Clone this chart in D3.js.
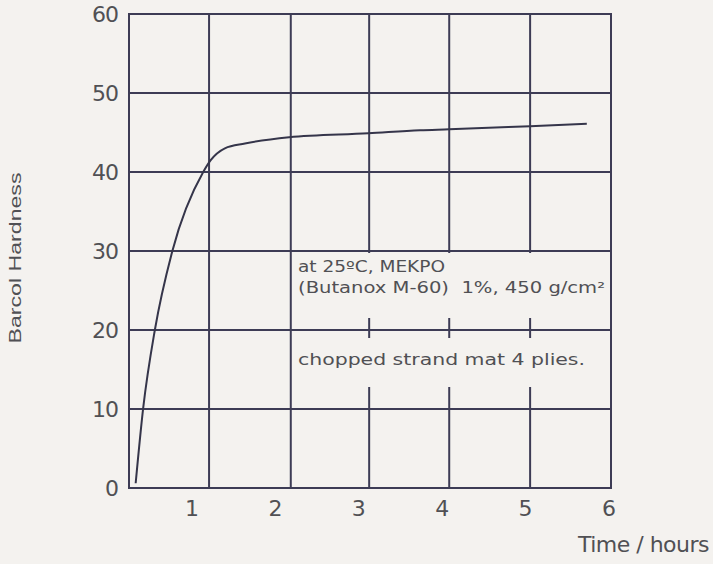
<!DOCTYPE html>
<html>
<head>
<meta charset="utf-8">
<script src="https://cdn.jsdelivr.net/npm/d3@7/dist/d3.min.js"></script>
<style>
  html, body { margin: 0; padding: 0; background: #f4f2ef; }
  svg { display: block; }
</style>
</head>
<body>
<svg id="chart" width="713" height="564"></svg>
<script>
// ---- data ----
const timeHours = [0.33, 0.42, 0.56, 0.77, 1.14, 1.23, 1.40, 1.64, 2.17, 3.12, 3.74, 4.09, 5.06, 5.74];
const barcolHardness = [0.6, 10.1, 20.0, 30.0, 40.0, 41.5, 43.0, 43.6, 44.4, 44.9, 45.3, 45.4, 45.8, 46.1];
const xTickValues = [1, 2, 3, 4, 5, 6];
const yTickValues = [0, 10, 20, 30, 40, 50, 60];
const xGridValues = [1.21, 2.19, 3.13, 4.09, 5.06];
const xLabel = "Time / hours";
const yLabel = "Barcol Hardness";
const noteLines = ["at 25\u00baC, MEKPO", "(Butanox M-60)\u00a0\u00a01%, 450 g/cm\u00b2", "chopped strand mat 4 plies."];

// ---- layout ----
const svg = d3.select("#chart");
const mLeft = 129, mRight = 611, mTop = 14, mBottom = 488;
const x = d3.scaleLinear().domain([0.25, 6.03]).range([mLeft, mRight]);
const y = d3.scaleLinear().domain([0, 60]).range([mBottom, mTop]);

const lineColor = "#3d3c55";
const textColor = "#505054";
const paper = "#f4f2ef";

svg.append("rect").attr("width", 713).attr("height", 564).attr("fill", paper);

// vertical grid lines
svg.append("g").selectAll("line").data(xGridValues).join("line")
  .attr("x1", d => x(d)).attr("x2", d => x(d))
  .attr("y1", y(0)).attr("y2", y(60))
  .attr("stroke", lineColor).attr("stroke-width", 2);

// annotation background (masks vertical grid lines)
svg.append("rect")
  .attr("x", x(2.19) + 2).attr("width", x(6.03) - x(2.19) - 4)
  .attr("y", y(30) + 2).attr("height", y(20) - y(30) - 14)
  .attr("fill", paper);
svg.append("rect")
  .attr("x", x(2.19) + 2).attr("width", x(6.03) - x(2.19) - 4)
  .attr("y", y(20) + 8).attr("height", y(10) - y(20) - 30)
  .attr("fill", paper);

// horizontal grid lines
svg.append("g").selectAll("line").data(yTickValues.filter(v => v > 0 && v < 60)).join("line")
  .attr("x1", x(0.25)).attr("x2", x(6.03))
  .attr("y1", d => y(d)).attr("y2", d => y(d))
  .attr("stroke", lineColor).attr("stroke-width", 2);

// frame
svg.append("rect")
  .attr("x", mLeft).attr("y", mTop)
  .attr("width", mRight - mLeft).attr("height", mBottom - mTop)
  .attr("fill", "none").attr("stroke", lineColor).attr("stroke-width", 2);

// axes labels
const yAxis = svg.append("g").attr("transform", `translate(${mLeft},0)`)
  .call(d3.axisLeft(y).tickValues(yTickValues).tickSize(0).tickPadding(11));
yAxis.select(".domain").remove();
yAxis.selectAll("text").attr("font-family", "DejaVu Sans").attr("font-size", 22)
  .attr("fill", textColor).attr("letter-spacing", -1);

const xAxis = svg.append("g").attr("transform", `translate(0,${mBottom})`)
  .call(d3.axisBottom(x).tickValues(xTickValues).tickSize(0).tickPadding(12).tickFormat(d3.format("d")));
xAxis.select(".domain").remove();
xAxis.selectAll("text").attr("font-family", "DejaVu Sans").attr("font-size", 22)
  .attr("fill", textColor);

// curve
const pts = timeHours.map((t, i) => [t, barcolHardness[i]]);
svg.append("path")
  .datum(pts)
  .attr("d", d3.line().x(d => x(d[0])).y(d => y(d[1])).curve(d3.curveMonotoneX))
  .attr("fill", "none").attr("stroke", "#35354a").attr("stroke-width", 2);

// axis titles
svg.append("text").attr("x", 709).attr("y", 552).attr("text-anchor", "end")
  .attr("font-family", "DejaVu Sans").attr("font-size", 22).attr("fill", textColor)
  .attr("letter-spacing", -0.5)
  .text(xLabel);

svg.append("text")
  .attr("transform", "translate(21,258) rotate(-90)")
  .attr("text-anchor", "middle")
  .attr("font-family", "Liberation Sans").attr("font-size", 16).attr("fill", textColor)
  .attr("textLength", 171).attr("lengthAdjust", "spacingAndGlyphs")
  .text(yLabel);

// annotations
const noteY = [272, 293, 365];
const noteW = [147, 307, 287];
svg.append("g").selectAll("text").data(noteLines).join("text")
  .attr("x", 298).attr("y", (d, i) => noteY[i])
  .attr("font-family", "DejaVu Sans").attr("font-size", 16).attr("fill", textColor)
  .attr("textLength", (d, i) => noteW[i]).attr("lengthAdjust", "spacingAndGlyphs")
  .text(d => d);
</script>
</body>
</html>
